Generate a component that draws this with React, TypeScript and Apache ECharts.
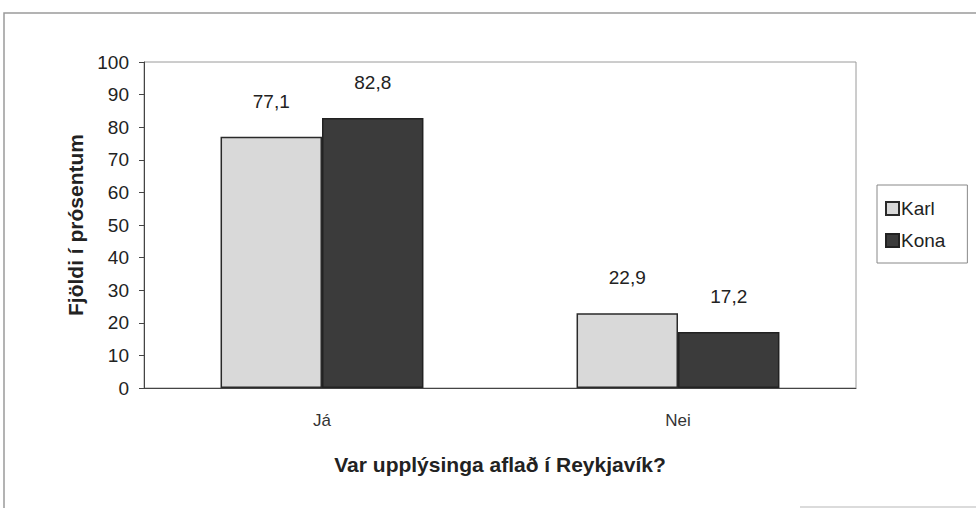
import React, { useEffect, useRef } from "react";
import * as echarts from "echarts";

const categories = ["Já", "Nei"];
const karlValues = [77.1, 22.9];
const konaValues = [82.8, 17.2];
const seriesNames = ["Karl", "Kona"];
const yTitle = "Fjöldi í prósentum";
const xTitle = "Var upplýsinga aflað í Reykjavík?";

const FONT = "'Liberation Sans', Arial, sans-serif";

export default function App() {
  const ref = useRef<HTMLDivElement>(null);
  useEffect(() => {
    if (!ref.current) return;
    const chart = echarts.init(ref.current, undefined, { renderer: "svg" });
    const fmt = (p: any) => String(p.value).replace(".", ",");
    chart.setOption({
      animation: false,
      backgroundColor: "#ffffff",
      textStyle: { fontFamily: FONT },
      graphic: [
        {
          type: "polyline",
          shape: { points: [[4, 508], [4, 13], [976, 13]] },
          style: { stroke: "#9a9a9a", lineWidth: 1.5, fill: "none" },
        },
        {
          type: "line",
          shape: { x1: 800, y1: 507, x2: 976, y2: 507 },
          style: { stroke: "#cfcfcf", lineWidth: 1.5 },
        },
      ],
      grid: {
        left: 144,
        right: 120,
        top: 62,
        bottom: 124,
        show: true,
        borderColor: "#9a9a9a",
        borderWidth: 1,
      },
      legend: {
        orient: "vertical",
        left: 877,
        top: 185,
        itemWidth: 13,
        itemHeight: 13,
        itemGap: 13,
        padding: [14, 22, 13, 8],
        borderColor: "#888",
        borderWidth: 1,
        icon: "rect",
        textStyle: { fontFamily: FONT, fontSize: 19, color: "#222", padding: [0, 0, 0, -3] },
        data: seriesNames,
      },
      xAxis: {
        type: "category",
        data: categories,
        name: xTitle,
        nameLocation: "middle",
        nameGap: 66,
        nameTextStyle: { fontFamily: FONT, fontSize: 21, fontWeight: "bold", color: "#222" },
        axisLine: { lineStyle: { color: "#444", width: 1 } },
        axisTick: { show: false },
        axisLabel: { fontFamily: FONT, fontSize: 17, color: "#333", margin: 24 },
      },
      yAxis: {
        type: "value",
        min: 0,
        max: 100,
        interval: 10,
        name: yTitle,
        nameLocation: "middle",
        nameGap: 56,
        nameTextStyle: { fontFamily: FONT, fontSize: 21, fontWeight: "bold", color: "#222" },
        axisLine: { show: true, lineStyle: { color: "#444", width: 1 } },
        axisTick: { show: true, length: 5, lineStyle: { color: "#444" } },
        splitLine: { show: false },
        axisLabel: { fontFamily: FONT, fontSize: 19, color: "#222", margin: 15 },
      },
      series: [
        {
          name: seriesNames[0],
          type: "bar",
          data: karlValues,
          barGap: "0%",
          barCategoryGap: "43%",
          itemStyle: { color: "#d9d9d9", borderColor: "#2a2a2a", borderWidth: 1.5 },
          label: {
            show: true,
            position: "top",
            distance: 26,
            formatter: fmt,
            fontFamily: FONT,
            fontSize: 19,
            color: "#222",
          },
        },
        {
          name: seriesNames[1],
          type: "bar",
          data: konaValues,
          itemStyle: { color: "#3b3b3b", borderColor: "#222", borderWidth: 1.5 },
          label: {
            show: true,
            position: "top",
            distance: 26,
            formatter: fmt,
            fontFamily: FONT,
            fontSize: 19,
            color: "#222",
          },
        },
      ],
    });
    return () => chart.dispose();
  }, []);
  return <div ref={ref} style={{ width: 976, height: 512, position: "absolute", left: 0, top: 0 }} />;
}
